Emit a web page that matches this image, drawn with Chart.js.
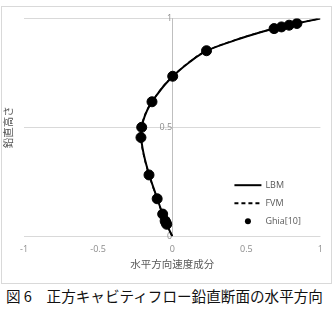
<!DOCTYPE html>
<html>
<head>
<meta charset="utf-8">
<script src="https://cdn.jsdelivr.net/npm/chart.js@4"></script>
<style>
    html, body { margin: 0; padding: 0; background: #fff; }
    body { width: 334px; height: 309px; position: relative; overflow: hidden; }
    #box {
        position: absolute; left: 1px; top: 6px; width: 331px; height: 278px;
        box-sizing: border-box; border: 1px solid #d9d9d9;
    }
    #caption {
        position: absolute; left: 6px; top: 286px; white-space: nowrap;
        font-family: "Noto Sans CJK JP", sans-serif; font-size: 14.6px; line-height: 20px; color: #111;
    }
</style>
</head>
<body>
<div id="box"><canvas id="chart"></canvas></div>
<div id="caption">図 6　正方キャビティフロー鉛直断面の水平方向</div>
<script>
// heights (vertical) and horizontal velocity for each series
const lbmY = [0, 0.05, 0.1, 0.15, 0.2, 0.25, 0.3, 0.35, 0.4, 0.45, 0.5, 0.55, 0.6, 0.65, 0.7, 0.75, 0.8, 0.85, 0.9, 0.925, 0.95, 0.975, 1];
const lbmU = [0, -0.034, -0.063, -0.090, -0.115, -0.140, -0.163, -0.183, -0.199, -0.209, -0.206, -0.186, -0.152, -0.102, -0.044, 0.030, 0.118, 0.228, 0.425, 0.54, 0.67, 0.83, 1];
const fvmY = [0, 0.05, 0.1, 0.15, 0.2, 0.25, 0.3, 0.35, 0.4, 0.45, 0.5, 0.55, 0.6, 0.65, 0.7, 0.75, 0.8, 0.85, 0.9, 0.925, 0.95, 0.975, 1];
const fvmU = [0, -0.035, -0.064, -0.092, -0.117, -0.142, -0.165, -0.185, -0.201, -0.211, -0.208, -0.188, -0.154, -0.104, -0.046, 0.028, 0.116, 0.226, 0.422, 0.537, 0.668, 0.829, 1];
const ghiaY = [0.0547, 0.0625, 0.0703, 0.1016, 0.1719, 0.2813, 0.4531, 0.5, 0.6172, 0.7344, 0.8516, 0.9531, 0.9609, 0.9688, 0.9766];
const ghiaU = [-0.03717, -0.04192, -0.04775, -0.06434, -0.10150, -0.15662, -0.21090, -0.20581, -0.13641, 0.00332, 0.23151, 0.68717, 0.73722, 0.78871, 0.84123];
const seriesNames = ['LBM', 'FVM', 'Ghia[10]'];
const xTicks = [-1, -0.5, 0, 0.5, 1];
const yTicks = [0, 0.5, 1];
const xTitle = '水平方向速度成分';
const yTitle = '鉛直高さ';

const toPoints = (us, ys) => us.map((u, i) => ({ x: u, y: ys[i] }));
const labelFont = '"Open Sans", "Noto Sans CJK JP", sans-serif';
const cjkFont = '"Noto Sans CJK JP", sans-serif';

// axis titles and inner legend, drawn on the canvas
const extras = {
    id: 'extras',
    afterDraw(chart) {
        const ctx = chart.ctx;
        const area = chart.chartArea;
        ctx.save();
        ctx.fillStyle = '#595959';
        ctx.font = '10.5px ' + cjkFont;
        ctx.textAlign = 'center';
        ctx.textBaseline = 'middle';
        ctx.fillText(xTitle, chart.scales.x.getPixelForValue(0), area.bottom + 28);
        ctx.translate(6, (area.top + area.bottom) / 2);
        ctx.rotate(-Math.PI / 2);
        ctx.fillText(yTitle, 0, 0);
        ctx.restore();

        ctx.save();
        ctx.font = '9px ' + labelFont;
        ctx.textAlign = 'left';
        ctx.textBaseline = 'middle';
        const x0 = area.right - 86, x1 = area.right - 59;
        const rows = [area.bottom - 51, area.bottom - 33, area.bottom - 15];
        chart.data.datasets.forEach((ds, i) => {
            const y = rows[i];
            ctx.strokeStyle = '#000';
            ctx.fillStyle = '#000';
            if (ds.showLine === false) {
                ctx.beginPath();
                ctx.arc((x0 + x1) / 2, y, 3, 0, Math.PI * 2);
                ctx.fill();
            } else {
                ctx.lineWidth = 2;
                ctx.setLineDash(ds.borderDash || []);
                ctx.beginPath();
                ctx.moveTo(x0, y);
                ctx.lineTo(x1, y);
                ctx.stroke();
                ctx.setLineDash([]);
            }
            ctx.fillStyle = '#595959';
            ctx.fillText(ds.label, x1 + 4, y);
        });
        ctx.restore();
    }
};

new Chart(document.getElementById('chart'), {
    type: 'scatter',
    data: {
        datasets: [
            {
                label: seriesNames[0],
                data: toPoints(lbmU, lbmY),
                showLine: true,
                borderColor: '#000',
                borderWidth: 2,
                pointRadius: 0,
                tension: 0.35,
                order: 2
            },
            {
                label: seriesNames[1],
                data: toPoints(fvmU, fvmY),
                showLine: true,
                borderColor: '#000',
                borderWidth: 1.5,
                borderDash: [4, 3],
                pointRadius: 0,
                tension: 0.35,
                order: 1
            },
            {
                label: seriesNames[2],
                data: toPoints(ghiaU, ghiaY),
                showLine: false,
                backgroundColor: '#000',
                borderColor: '#000',
                pointRadius: 5,
                order: 0
            }
        ]
    },
    options: {
        responsive: true,
        maintainAspectRatio: false,
        animation: false,
        layout: { padding: { left: 22, right: 7, top: 11, bottom: 20 } },
        plugins: {
            legend: { display: false },
            tooltip: { enabled: false }
        },
        scales: {
            x: {
                type: 'linear',
                min: -1,
                max: 1,
                afterBuildTicks: (axis) => { axis.ticks = xTicks.map(v => ({ value: v })); },
                grid: { display: false, drawTicks: false },
                border: { display: false },
                ticks: {
                    padding: 8,
                    color: '#8c8c8c',
                    font: { family: labelFont, size: 9 },
                    callback: (v) => String(v)
                }
            },
            y: {
                type: 'linear',
                min: 0,
                max: 1,
                position: { x: 0 },
                afterBuildTicks: (axis) => { axis.ticks = yTicks.map(v => ({ value: v })); },
                grid: { color: '#d9d9d9', drawTicks: false },
                border: { display: true, color: '#bfbfbf' },
                ticks: {
                    padding: 6,
                    color: '#8c8c8c',
                    font: { family: labelFont, size: 9 },
                    callback: (v) => String(v)
                }
            }
        }
    },
    plugins: [extras]
});
</script>
</body>
</html>
